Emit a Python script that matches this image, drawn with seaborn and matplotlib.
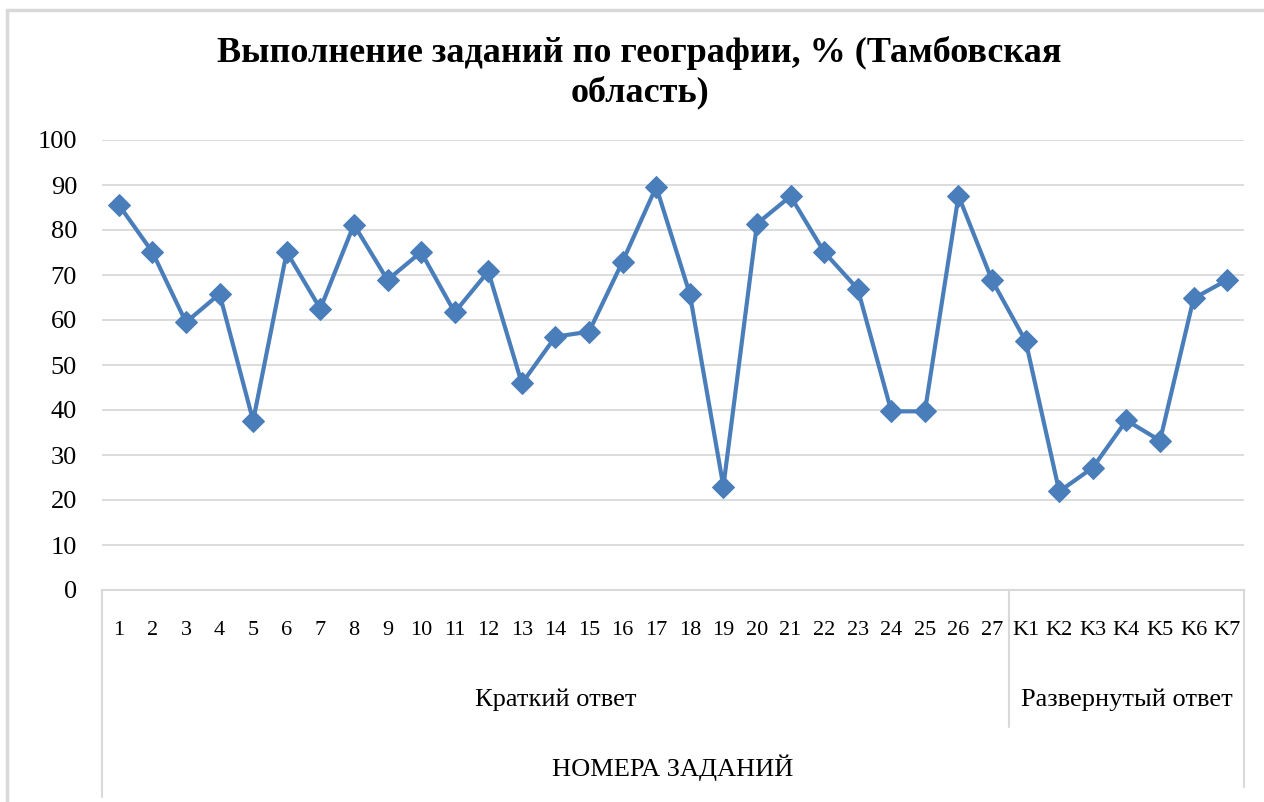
import matplotlib.pyplot as plt
import matplotlib.transforms as mtransforms
from matplotlib.lines import Line2D
import pandas as pd
import seaborn as sns

task_labels = [str(i) for i in range(1, 28)] + ['K1', 'K2', 'K3', 'K4', 'K5', 'K6', 'K7']
values = [85.6, 75.1, 59.5, 65.8, 37.6, 75.1, 62.5, 81.2, 68.9, 75.1,
          61.7, 70.8, 45.9, 56.3, 57.4, 73.0, 89.6, 65.8, 23.0, 81.4,
          87.5, 75.1, 66.9, 39.7, 39.7, 87.6, 68.8, 55.3, 21.9, 27.2,
          37.7, 33.2, 64.8, 68.9]
groups = ['Краткий ответ', 'Развернутый ответ']
group_sizes = [27, 7]

df = pd.DataFrame({'pos': range(len(task_labels)), 'val': values})

sns.set_style('white')
plt.rcParams['font.family'] = ['Liberation Serif', 'DejaVu Serif']
plt.rcParams['text.color'] = 'black'
plt.rcParams['xtick.color'] = 'black'
plt.rcParams['ytick.color'] = 'black'

fig = plt.figure(figsize=(12.64, 8.02), dpi=100)
ax = fig.add_axes([102 / 1264, 1 - 590 / 802, 1142 / 1264, 450 / 802])

blue = '#4A7EBB'
sns.lineplot(data=df, x='pos', y='val', ax=ax, color=blue, linewidth=3,
             marker='D', markersize=11, markeredgecolor=blue)

ax.set_xlim(-0.5, len(task_labels) - 0.5)
ax.set_ylim(0, 100)
ax.set_yticks(range(0, 101, 10))
ax.set_xticks(range(len(task_labels)))
ax.set_xticklabels(task_labels)
ax.tick_params(axis='y', length=0, pad=18, labelsize=19)
ax.tick_params(axis='x', length=0, pad=22, labelsize=16)
ax.grid(axis='y', color='#D9D9D9', linewidth=1.3)
ax.set_axisbelow(True)
for s in ['left', 'right', 'top']:
    ax.spines[s].set_visible(False)
ax.spines['bottom'].set_color('#D9D9D9')
ax.spines['bottom'].set_linewidth(1.5)
ax.set_xlabel('')
ax.set_ylabel('')

# multi-level category axis
trans = mtransforms.blended_transform_factory(ax.transData, ax.transAxes)
gray = '#D9D9D9'
start = -0.5
ax.plot([start, start], [0, -0.46], transform=trans, color=gray, lw=1.5, clip_on=False)
for name, n in zip(groups, group_sizes):
    end = start + n
    ax.text((start + end) / 2, -0.243, name, transform=trans, ha='center',
            va='center', fontsize=19)
    bottom = -0.304 if end < len(task_labels) - 0.5 else -0.438
    ax.plot([end, end], [0, bottom], transform=trans, color=gray, lw=1.5, clip_on=False)
    start = end

ax.text(0.5, -0.396, 'НОМЕРА ЗАДАНИЙ', transform=ax.transAxes, ha='center',
        va='center', fontsize=19)

fig.text(0.506, 1 - 73 / 802, 'Выполнение заданий по географии, % (Тамбовская\nобласть)',
         ha='center', va='center', fontsize=26, fontweight='bold', linespacing=1.22)

# chart border
fig.add_artist(Line2D([7 / 1264, 7 / 1264], [0, 1 - 10 / 802], color=gray, lw=2.5))
fig.add_artist(Line2D([7 / 1264, 1], [1 - 10 / 802, 1 - 10 / 802], color=gray, lw=2.5))

fig.savefig('out.png', dpi=100)
